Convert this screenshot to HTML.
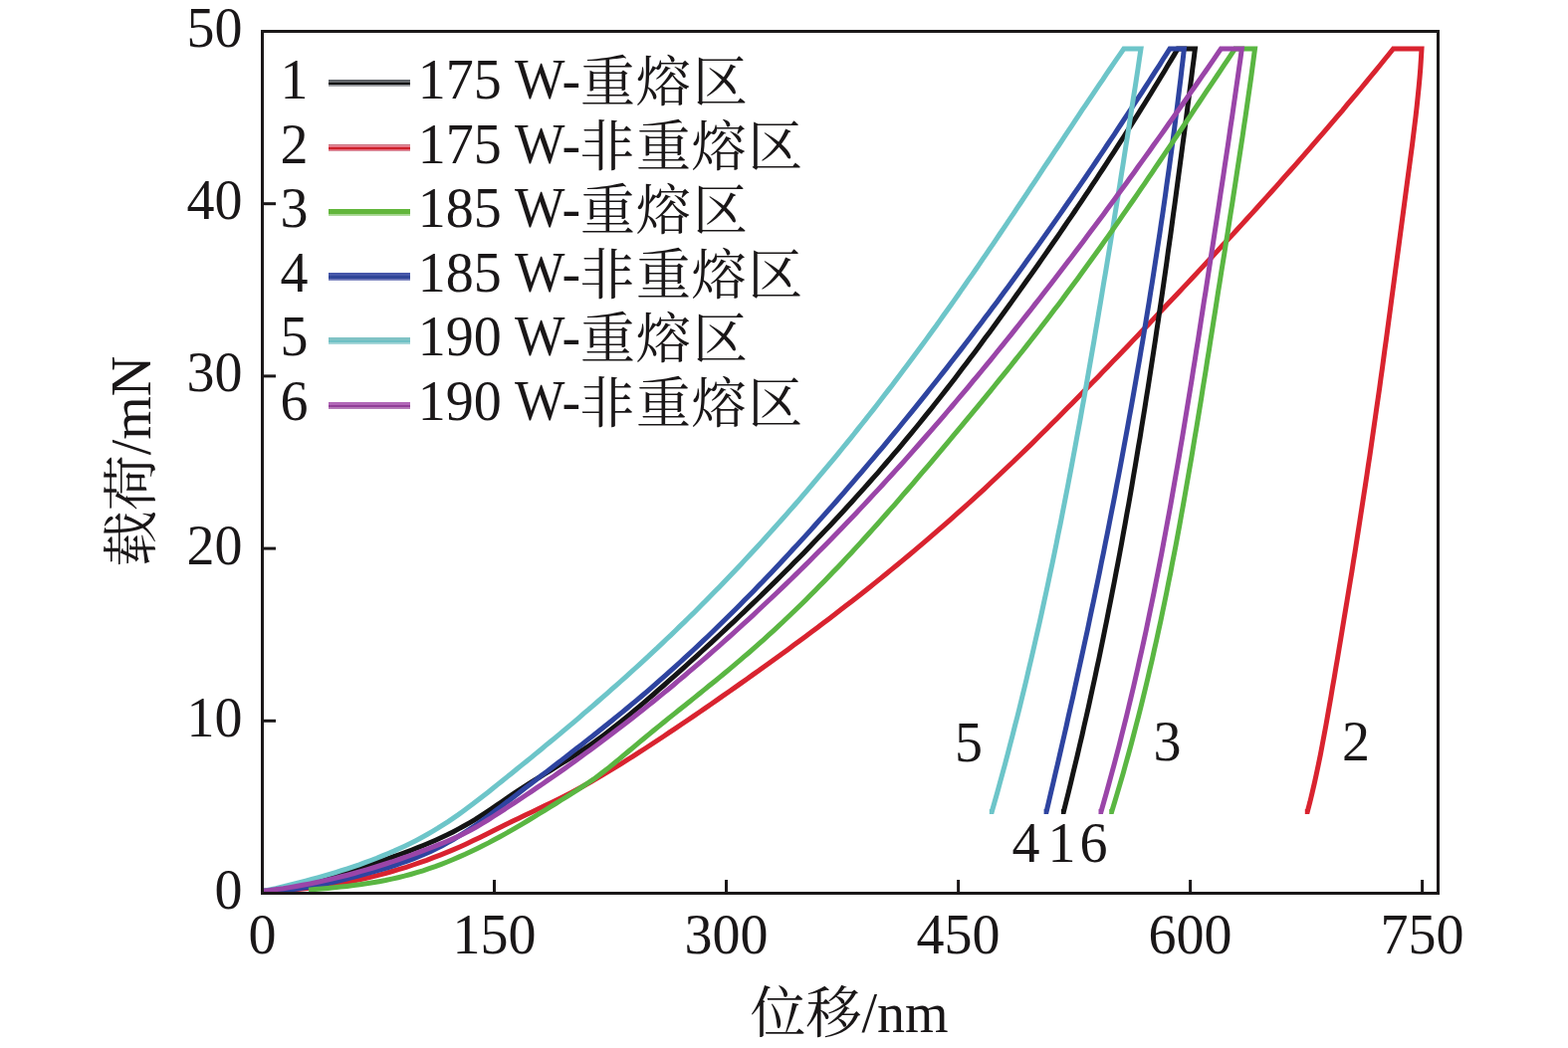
<!DOCTYPE html>
<html><head><meta charset="utf-8"><title>载荷-位移曲线</title><style>html,body{margin:0;padding:0;background:#fff;overflow:hidden}svg{display:block}</style></head>
<body><svg width="1575" height="1053" viewBox="0 0 1575 1053">
<rect width="1575" height="1053" fill="#fff"/>
<path d="M265.0,895.3 L272.3,895.1 L279.5,894.8 L286.8,894.3 L294.0,893.8 L301.3,893.2 L308.5,892.4 L315.7,891.6 L322.9,890.6 L330.1,889.6 L337.3,888.4 L344.5,887.1 L351.6,885.8 L358.7,884.3 L365.8,882.7 L372.9,881.1 L380.0,879.3 L387.0,877.5 L394.0,875.5 L401.0,873.4 L408.0,871.3 L414.9,869.0 L421.8,866.7 L428.6,864.3 L435.4,861.7 L442.2,859.1 L448.9,856.4 L455.6,853.6 L462.3,850.7 L468.9,847.7 L475.4,844.6 L482.0,841.4 L488.5,838.2 L494.9,835.0 L501.4,831.8 L507.9,828.6 L514.5,825.3 L521.0,822.2 L527.5,819.0 L534.1,815.9 L540.7,812.7 L547.3,809.6 L553.8,806.4 L560.4,803.2 L566.9,800.0 L573.3,796.6 L579.7,793.2 L586.1,789.7 L592.4,786.2 L598.7,782.6 L605.0,778.9 L611.2,775.2 L617.4,771.4 L623.6,767.6 L629.8,763.7 L635.9,759.8 L642.0,755.9 L648.1,752.0 L654.2,748.0 L660.3,744.0 L666.4,740.0 L672.4,735.9 L678.5,731.9 L684.5,727.8 L690.5,723.7 L696.6,719.6 L702.6,715.5 L708.6,711.4 L714.6,707.2 L720.5,703.1 L726.5,698.9 L732.5,694.7 L738.4,690.6 L744.4,686.4 L750.3,682.2 L756.3,677.9 L762.2,673.7 L768.1,669.5 L774.0,665.2 L779.9,660.9 L785.8,656.7 L791.7,652.4 L797.5,648.1 L803.4,643.7 L809.2,639.4 L815.1,635.1 L820.9,630.7 L826.7,626.3 L832.5,621.9 L838.3,617.5 L844.0,613.1 L849.8,608.6 L855.5,604.2 L861.3,599.7 L867.0,595.2 L872.7,590.7 L878.4,586.1 L884.0,581.6 L889.7,577.0 L895.3,572.4 L901.0,567.8 L906.6,563.1 L912.2,558.5 L917.7,553.8 L923.3,549.1 L928.9,544.4 L934.4,539.7 L939.9,534.9 L945.4,530.2 L950.9,525.4 L956.3,520.6 L961.8,515.7 L967.2,510.9 L972.6,506.0 L978.0,501.1 L983.4,496.2 L988.7,491.3 L994.0,486.3 L999.3,481.3 L1004.6,476.3 L1009.9,471.3 L1015.2,466.3 L1020.4,461.3 L1025.6,456.2 L1030.9,451.1 L1036.1,446.1 L1041.2,441.0 L1046.4,435.8 L1051.6,430.7 L1056.7,425.6 L1061.9,420.4 L1067.0,415.3 L1072.1,410.1 L1077.2,404.9 L1082.3,399.7 L1087.4,394.5 L1092.5,389.3 L1097.6,384.1 L1102.7,378.9 L1107.7,373.6 L1112.8,368.4 L1117.8,363.1 L1122.9,357.9 L1127.9,352.7 L1133.0,347.4 L1138.0,342.1 L1143.0,336.9 L1148.1,331.6 L1153.1,326.4 L1158.1,321.1 L1163.1,315.8 L1168.1,310.5 L1173.1,305.2 L1178.1,300.0 L1183.1,294.7 L1188.1,289.4 L1193.1,284.1 L1198.1,278.8 L1203.1,273.4 L1208.0,268.1 L1213.0,262.8 L1217.9,257.5 L1222.9,252.1 L1227.8,246.8 L1232.8,241.4 L1237.7,236.1 L1242.6,230.7 L1247.5,225.4 L1252.4,220.0 L1257.3,214.6 L1262.2,209.2 L1267.1,203.8 L1272.0,198.4 L1276.8,193.0 L1281.7,187.6 L1286.5,182.1 L1291.3,176.7 L1296.2,171.3 L1301.0,165.8 L1305.8,160.3 L1310.6,154.9 L1315.4,149.4 L1320.1,143.9 L1324.9,138.4 L1329.7,132.9 L1334.4,127.4 L1339.1,121.9 L1343.8,116.3 L1348.6,110.8 L1353.2,105.2 L1357.9,99.6 L1362.6,94.1 L1367.3,88.5 L1371.9,82.9 L1376.5,77.2 L1381.2,71.6 L1385.8,66.0 L1390.4,60.3 L1394.9,54.7 L1399.5,49.0 L1428.0,49.0 L1427.4,58.8 L1426.8,68.5 L1426.0,78.3 L1425.1,88.1 L1424.1,97.8 L1423.1,107.6 L1422.0,117.3 L1420.8,127.0 L1419.6,136.8 L1418.4,146.5 L1417.1,156.2 L1415.8,166.0 L1414.5,175.7 L1413.2,185.4 L1411.9,195.2 L1410.6,204.9 L1409.3,214.6 L1408.0,224.4 L1406.7,234.1 L1405.4,243.8 L1404.1,253.6 L1402.8,263.3 L1401.5,273.0 L1400.2,282.8 L1398.9,292.5 L1397.6,302.2 L1396.3,312.0 L1395.0,321.7 L1393.7,331.4 L1392.4,341.2 L1391.0,350.9 L1389.7,360.6 L1388.4,370.3 L1387.0,380.1 L1385.7,389.8 L1384.3,399.5 L1382.9,409.2 L1381.5,419.0 L1380.1,428.7 L1378.7,438.4 L1377.3,448.1 L1375.9,457.8 L1374.4,467.5 L1373.0,477.2 L1371.5,487.0 L1370.0,496.7 L1368.5,506.4 L1367.0,516.1 L1365.5,525.8 L1364.0,535.5 L1362.5,545.2 L1361.0,554.9 L1359.4,564.6 L1357.9,574.3 L1356.3,583.9 L1354.7,593.6 L1353.1,603.3 L1351.5,613.0 L1349.9,622.7 L1348.3,632.4 L1346.7,642.1 L1345.1,651.7 L1343.5,661.4 L1341.8,671.1 L1340.2,680.8 L1338.5,690.4 L1336.9,700.1 L1335.2,709.8 L1333.5,719.5 L1331.8,729.1 L1330.0,738.8 L1328.2,748.4 L1326.4,758.0 L1324.4,767.7 L1322.4,777.3 L1320.3,786.9 L1318.1,796.4 L1315.8,806.0 L1313.3,815.5 L1310.8,815.5" fill="none" stroke="#d9232f" stroke-width="5.0" stroke-linejoin="miter" stroke-miterlimit="4" stroke-linecap="butt"/>
<path d="M265.0,895.3 L271.5,894.9 L277.9,894.3 L284.3,893.4 L290.6,892.4 L296.9,891.1 L303.2,889.7 L309.4,888.2 L315.6,886.5 L321.8,884.8 L328.0,882.9 L334.2,881.0 L340.3,879.1 L346.4,877.1 L352.6,875.1 L358.7,873.1 L364.9,871.1 L371.0,869.1 L377.2,867.0 L383.3,865.0 L389.4,862.9 L395.5,860.7 L401.6,858.5 L407.6,856.3 L413.7,854.0 L419.7,851.7 L425.7,849.3 L431.6,846.8 L437.5,844.2 L443.4,841.5 L449.2,838.8 L454.9,835.9 L460.6,832.9 L466.3,829.8 L471.9,826.6 L477.4,823.3 L482.8,819.8 L488.2,816.3 L493.5,812.8 L498.9,809.1 L504.2,805.5 L509.5,801.8 L514.9,798.2 L520.2,794.6 L525.6,791.1 L531.0,787.6 L536.5,784.2 L542.0,780.8 L547.5,777.4 L553.0,774.0 L558.5,770.6 L563.9,767.2 L569.4,763.8 L574.9,760.4 L580.3,756.9 L585.7,753.3 L591.0,749.7 L596.3,746.0 L601.5,742.2 L606.7,738.4 L611.8,734.5 L616.9,730.5 L622.0,726.5 L627.0,722.5 L632.0,718.4 L637.0,714.2 L641.9,710.1 L646.9,705.9 L651.8,701.7 L656.7,697.5 L661.5,693.2 L666.4,689.0 L671.2,684.7 L676.1,680.4 L680.9,676.1 L685.7,671.8 L690.5,667.5 L695.3,663.2 L700.1,658.9 L704.8,654.5 L709.6,650.2 L714.3,645.8 L719.1,641.4 L723.8,637.0 L728.5,632.6 L733.2,628.2 L737.9,623.8 L742.6,619.3 L747.3,614.9 L751.9,610.4 L756.6,605.9 L761.2,601.5 L765.9,596.9 L770.5,592.4 L775.1,587.9 L779.7,583.4 L784.3,578.8 L788.8,574.3 L793.4,569.7 L797.9,565.1 L802.5,560.5 L807.0,555.9 L811.5,551.2 L816.0,546.6 L820.4,541.9 L824.9,537.3 L829.3,532.6 L833.8,527.9 L838.2,523.2 L842.6,518.5 L847.0,513.7 L851.3,509.0 L855.7,504.2 L860.0,499.4 L864.3,494.6 L868.6,489.8 L872.9,485.0 L877.2,480.1 L881.5,475.3 L885.7,470.4 L889.9,465.5 L894.1,460.6 L898.3,455.7 L902.5,450.8 L906.6,445.9 L910.7,440.9 L914.9,435.9 L918.9,431.0 L923.0,426.0 L927.1,420.9 L931.1,415.9 L935.2,410.9 L939.2,405.8 L943.2,400.8 L947.1,395.7 L951.1,390.6 L955.1,385.5 L959.0,380.4 L962.9,375.3 L966.8,370.1 L970.7,365.0 L974.6,359.8 L978.5,354.7 L982.4,349.5 L986.2,344.3 L990.0,339.1 L993.9,333.9 L997.7,328.7 L1001.5,323.5 L1005.3,318.3 L1009.1,313.1 L1012.9,307.8 L1016.6,302.6 L1020.4,297.3 L1024.1,292.1 L1027.9,286.8 L1031.6,281.5 L1035.4,276.3 L1039.1,271.0 L1042.8,265.7 L1046.5,260.4 L1050.2,255.1 L1053.9,249.8 L1057.5,244.5 L1061.2,239.2 L1064.9,233.9 L1068.5,228.5 L1072.1,223.2 L1075.8,217.9 L1079.4,212.5 L1083.0,207.2 L1086.6,201.8 L1090.2,196.4 L1093.8,191.1 L1097.3,185.7 L1100.9,180.3 L1104.4,174.9 L1108.0,169.5 L1111.5,164.1 L1115.0,158.7 L1118.5,153.3 L1122.0,147.8 L1125.5,142.4 L1129.0,137.0 L1132.4,131.5 L1135.9,126.1 L1139.3,120.6 L1142.8,115.1 L1146.2,109.7 L1149.6,104.2 L1153.0,98.7 L1156.4,93.2 L1159.7,87.7 L1163.1,82.2 L1166.4,76.7 L1169.8,71.2 L1173.1,65.6 L1176.4,60.1 L1179.7,54.6 L1183.0,49.0 L1200.4,49.0 L1199.2,58.8 L1197.9,68.5 L1196.7,78.3 L1195.4,88.0 L1194.2,97.8 L1192.9,107.5 L1191.7,117.3 L1190.4,127.0 L1189.1,136.8 L1187.8,146.5 L1186.5,156.3 L1185.2,166.1 L1183.9,175.8 L1182.6,185.6 L1181.3,195.3 L1180.0,205.1 L1178.6,214.9 L1177.3,224.6 L1176.0,234.4 L1174.6,244.1 L1173.2,253.9 L1171.9,263.6 L1170.5,273.4 L1169.1,283.2 L1167.7,292.9 L1166.3,302.7 L1164.8,312.4 L1163.4,322.2 L1161.9,331.9 L1160.5,341.7 L1159.0,351.4 L1157.5,361.2 L1156.0,370.9 L1154.5,380.6 L1153.0,390.4 L1151.4,400.1 L1149.9,409.9 L1148.3,419.6 L1146.7,429.3 L1145.2,439.1 L1143.5,448.8 L1141.9,458.5 L1140.3,468.2 L1138.6,477.9 L1137.0,487.7 L1135.3,497.4 L1133.6,507.1 L1131.8,516.8 L1130.1,526.5 L1128.3,536.2 L1126.6,545.9 L1124.8,555.6 L1123.0,565.3 L1121.1,574.9 L1119.3,584.6 L1117.4,594.3 L1115.5,604.0 L1113.6,613.6 L1111.7,623.3 L1109.7,633.0 L1107.8,642.6 L1105.8,652.3 L1103.8,661.9 L1101.7,671.6 L1099.7,681.2 L1097.6,690.8 L1095.5,700.4 L1093.4,710.1 L1091.2,719.7 L1089.0,729.3 L1086.9,738.9 L1084.6,748.5 L1082.4,758.1 L1080.1,767.7 L1077.8,777.2 L1075.5,786.8 L1073.2,796.4 L1070.8,805.9 L1068.4,815.5 L1065.9,815.5" fill="none" stroke="#141414" stroke-width="5.0" stroke-linejoin="miter" stroke-miterlimit="4" stroke-linecap="butt"/>
<path d="M265.0,895.3 L271.5,895.3 L277.9,895.1 L284.3,894.6 L290.7,894.1 L297.1,893.3 L303.4,892.4 L309.7,891.4 L316.0,890.2 L322.3,889.0 L328.6,887.6 L334.8,886.2 L341.1,884.7 L347.4,883.2 L353.6,881.6 L359.9,880.0 L366.1,878.4 L372.3,876.7 L378.5,874.9 L384.7,873.1 L390.9,871.3 L397.0,869.3 L403.1,867.2 L409.1,865.1 L415.1,862.8 L421.0,860.5 L426.9,858.0 L432.7,855.4 L438.5,852.6 L444.1,849.7 L449.7,846.6 L455.3,843.5 L460.7,840.2 L466.1,836.8 L471.5,833.3 L476.8,829.7 L482.1,826.0 L487.3,822.3 L492.5,818.5 L497.7,814.6 L502.9,810.7 L508.0,806.8 L513.1,802.9 L518.3,799.0 L523.4,795.0 L528.5,791.1 L533.6,787.2 L538.7,783.2 L543.8,779.3 L549.0,775.4 L554.1,771.5 L559.2,767.6 L564.3,763.6 L569.4,759.7 L574.4,755.8 L579.5,751.8 L584.6,747.9 L589.6,743.9 L594.7,740.0 L599.7,736.0 L604.7,732.0 L609.7,728.0 L614.7,724.0 L619.7,719.9 L624.7,715.9 L629.7,711.8 L634.6,707.7 L639.5,703.6 L644.4,699.5 L649.3,695.3 L654.2,691.1 L659.0,686.9 L663.8,682.7 L668.7,678.4 L673.4,674.2 L678.2,669.9 L683.0,665.5 L687.7,661.2 L692.4,656.9 L697.1,652.5 L701.8,648.1 L706.5,643.7 L711.2,639.2 L715.8,634.8 L720.4,630.3 L725.0,625.8 L729.6,621.3 L734.2,616.8 L738.8,612.3 L743.3,607.7 L747.8,603.1 L752.4,598.5 L756.9,593.9 L761.3,589.3 L765.8,584.7 L770.3,580.0 L774.7,575.4 L779.1,570.7 L783.6,566.0 L788.0,561.3 L792.3,556.6 L796.7,551.8 L801.1,547.1 L805.4,542.4 L809.8,537.6 L814.1,532.8 L818.4,528.0 L822.7,523.2 L827.0,518.4 L831.2,513.6 L835.5,508.8 L839.8,504.0 L844.0,499.1 L848.2,494.3 L852.4,489.4 L856.6,484.6 L860.8,479.7 L865.0,474.8 L869.2,469.9 L873.3,465.0 L877.5,460.1 L881.6,455.2 L885.8,450.3 L889.9,445.3 L894.0,440.4 L898.1,435.4 L902.2,430.5 L906.2,425.5 L910.3,420.5 L914.3,415.6 L918.4,410.6 L922.4,405.6 L926.4,400.6 L930.4,395.6 L934.4,390.5 L938.4,385.5 L942.4,380.5 L946.4,375.4 L950.4,370.4 L954.3,365.3 L958.2,360.2 L962.2,355.1 L966.1,350.1 L970.0,345.0 L973.9,339.9 L977.8,334.7 L981.7,329.6 L985.6,324.5 L989.4,319.3 L993.3,314.2 L997.1,309.1 L1001.0,303.9 L1004.8,298.7 L1008.6,293.5 L1012.4,288.4 L1016.2,283.2 L1020.0,278.0 L1023.8,272.8 L1027.6,267.6 L1031.3,262.3 L1035.1,257.1 L1038.8,251.9 L1042.6,246.6 L1046.3,241.4 L1050.0,236.1 L1053.7,230.9 L1057.4,225.6 L1061.1,220.4 L1064.8,215.1 L1068.5,209.8 L1072.1,204.5 L1075.8,199.2 L1079.4,193.9 L1083.1,188.6 L1086.7,183.3 L1090.4,178.0 L1094.0,172.7 L1097.6,167.3 L1101.2,162.0 L1104.8,156.7 L1108.4,151.3 L1111.9,146.0 L1115.5,140.6 L1119.1,135.3 L1122.6,129.9 L1126.2,124.5 L1129.7,119.2 L1133.2,113.8 L1136.8,108.4 L1140.3,103.0 L1143.8,97.6 L1147.3,92.3 L1150.8,86.9 L1154.3,81.5 L1157.7,76.1 L1161.2,70.7 L1164.7,65.3 L1168.1,59.8 L1171.6,54.4 L1175.0,49.0 L1189.4,49.0 L1188.3,58.8 L1187.1,68.6 L1186.0,78.4 L1184.8,88.1 L1183.6,97.9 L1182.4,107.7 L1181.1,117.5 L1179.9,127.2 L1178.6,137.0 L1177.3,146.8 L1176.0,156.6 L1174.7,166.3 L1173.3,176.1 L1171.9,185.9 L1170.6,195.6 L1169.2,205.4 L1167.8,215.1 L1166.3,224.9 L1164.9,234.7 L1163.4,244.4 L1161.9,254.2 L1160.4,263.9 L1158.9,273.7 L1157.4,283.4 L1155.8,293.1 L1154.3,302.9 L1152.7,312.6 L1151.1,322.4 L1149.5,332.1 L1147.9,341.8 L1146.2,351.6 L1144.6,361.3 L1142.9,371.0 L1141.2,380.7 L1139.5,390.5 L1137.8,400.2 L1136.1,409.9 L1134.3,419.6 L1132.6,429.3 L1130.8,439.0 L1129.0,448.8 L1127.2,458.5 L1125.4,468.2 L1123.6,477.9 L1121.7,487.6 L1119.9,497.3 L1118.0,506.9 L1116.1,516.6 L1114.2,526.3 L1112.3,536.0 L1110.3,545.7 L1108.4,555.4 L1106.4,565.0 L1104.5,574.7 L1102.5,584.4 L1100.5,594.0 L1098.5,603.7 L1096.4,613.4 L1094.4,623.0 L1092.4,632.7 L1090.3,642.3 L1088.2,652.0 L1086.1,661.6 L1084.0,671.3 L1081.9,680.9 L1079.8,690.5 L1077.7,700.2 L1075.5,709.8 L1073.3,719.4 L1071.2,729.1 L1069.0,738.7 L1066.8,748.3 L1064.6,757.9 L1062.4,767.5 L1060.1,777.1 L1057.9,786.7 L1055.6,796.3 L1053.4,805.9 L1051.1,815.5 L1048.6,815.5" fill="none" stroke="#2e44a0" stroke-width="5.0" stroke-linejoin="miter" stroke-miterlimit="4" stroke-linecap="butt"/>
<path d="M265.0,895.3 L271.0,893.9 L277.0,892.6 L283.0,891.1 L289.0,889.7 L295.0,888.2 L301.0,886.7 L307.0,885.1 L313.1,883.5 L319.1,881.8 L325.1,880.1 L331.1,878.4 L337.1,876.6 L343.0,874.7 L349.0,872.8 L354.9,870.8 L360.9,868.8 L366.7,866.7 L372.6,864.5 L378.4,862.3 L384.2,859.9 L390.0,857.5 L395.7,855.1 L401.4,852.5 L407.0,849.9 L412.6,847.2 L418.1,844.4 L423.6,841.5 L429.0,838.5 L434.4,835.4 L439.7,832.2 L444.9,828.9 L450.1,825.6 L455.2,822.1 L460.3,818.6 L465.3,815.0 L470.3,811.3 L475.3,807.6 L480.2,803.8 L485.1,800.0 L490.0,796.2 L494.9,792.3 L499.7,788.4 L504.6,784.5 L509.4,780.6 L514.3,776.7 L519.1,772.8 L523.9,768.9 L528.8,765.0 L533.6,761.1 L538.4,757.1 L543.2,753.2 L548.0,749.2 L552.8,745.3 L557.6,741.3 L562.4,737.3 L567.1,733.3 L571.9,729.3 L576.7,725.3 L581.4,721.3 L586.1,717.2 L590.9,713.2 L595.6,709.1 L600.3,705.0 L605.0,700.9 L609.7,696.8 L614.3,692.7 L619.0,688.6 L623.6,684.5 L628.3,680.3 L632.9,676.2 L637.5,672.0 L642.1,667.8 L646.7,663.6 L651.3,659.4 L655.8,655.1 L660.4,650.9 L664.9,646.6 L669.4,642.3 L673.9,638.1 L678.4,633.7 L682.8,629.4 L687.3,625.1 L691.7,620.7 L696.2,616.4 L700.6,612.0 L705.0,607.6 L709.3,603.2 L713.7,598.8 L718.1,594.3 L722.4,589.9 L726.7,585.4 L731.0,580.9 L735.3,576.4 L739.6,571.9 L743.9,567.4 L748.1,562.9 L752.4,558.3 L756.6,553.8 L760.8,549.2 L765.0,544.6 L769.2,540.0 L773.3,535.4 L777.5,530.8 L781.6,526.2 L785.8,521.5 L789.9,516.9 L794.0,512.2 L798.1,507.5 L802.2,502.8 L806.2,498.1 L810.3,493.4 L814.3,488.7 L818.3,483.9 L822.3,479.2 L826.3,474.4 L830.3,469.7 L834.3,464.9 L838.3,460.1 L842.2,455.3 L846.1,450.5 L850.1,445.6 L854.0,440.8 L857.9,436.0 L861.7,431.1 L865.6,426.2 L869.5,421.4 L873.3,416.5 L877.2,411.6 L881.0,406.7 L884.8,401.8 L888.6,396.8 L892.4,391.9 L896.2,387.0 L899.9,382.0 L903.7,377.0 L907.4,372.1 L911.2,367.1 L914.9,362.1 L918.6,357.1 L922.3,352.1 L926.0,347.1 L929.6,342.1 L933.3,337.0 L936.9,332.0 L940.6,327.0 L944.2,321.9 L947.8,316.8 L951.4,311.8 L955.0,306.7 L958.6,301.6 L962.2,296.5 L965.7,291.4 L969.3,286.3 L972.8,281.2 L976.4,276.1 L979.9,271.0 L983.4,265.9 L986.9,260.7 L990.4,255.6 L993.9,250.4 L997.4,245.3 L1000.9,240.1 L1004.3,235.0 L1007.8,229.8 L1011.3,224.7 L1014.7,219.5 L1018.2,214.3 L1021.6,209.2 L1025.1,204.0 L1028.5,198.8 L1032.0,193.6 L1035.4,188.4 L1038.8,183.3 L1042.3,178.1 L1045.7,172.9 L1049.1,167.7 L1052.6,162.5 L1056.0,157.3 L1059.4,152.2 L1062.9,147.0 L1066.3,141.8 L1069.7,136.6 L1073.2,131.4 L1076.6,126.3 L1080.0,121.1 L1083.5,115.9 L1086.9,110.7 L1090.4,105.6 L1093.9,100.4 L1097.3,95.3 L1100.8,90.1 L1104.3,84.9 L1107.8,79.8 L1111.2,74.6 L1114.7,69.5 L1118.2,64.4 L1121.8,59.2 L1125.3,54.1 L1128.8,49.0 L1146.0,49.0 L1144.5,58.8 L1143.1,68.5 L1141.6,78.3 L1140.1,88.1 L1138.5,97.8 L1137.0,107.6 L1135.5,117.4 L1134.0,127.1 L1132.5,136.9 L1130.9,146.7 L1129.4,156.4 L1127.9,166.2 L1126.3,176.0 L1124.8,185.8 L1123.2,195.5 L1121.6,205.3 L1120.0,215.1 L1118.5,224.8 L1116.9,234.6 L1115.3,244.4 L1113.7,254.1 L1112.1,263.9 L1110.5,273.6 L1108.8,283.4 L1107.2,293.2 L1105.6,302.9 L1103.9,312.7 L1102.3,322.5 L1100.6,332.2 L1099.0,342.0 L1097.3,351.7 L1095.6,361.5 L1093.9,371.2 L1092.2,381.0 L1090.5,390.7 L1088.8,400.5 L1087.0,410.2 L1085.3,420.0 L1083.5,429.7 L1081.7,439.4 L1079.9,449.2 L1078.1,458.9 L1076.3,468.6 L1074.4,478.4 L1072.6,488.1 L1070.7,497.8 L1068.8,507.5 L1066.9,517.2 L1065.0,526.9 L1063.0,536.6 L1061.1,546.3 L1059.1,556.0 L1057.1,565.7 L1055.0,575.4 L1053.0,585.1 L1050.9,594.7 L1048.8,604.4 L1046.7,614.1 L1044.6,623.7 L1042.4,633.4 L1040.2,643.0 L1038.0,652.7 L1035.8,662.3 L1033.5,671.9 L1031.3,681.5 L1029.0,691.1 L1026.6,700.8 L1024.3,710.4 L1021.9,720.0 L1019.4,729.5 L1017.0,739.1 L1014.5,748.7 L1012.0,758.3 L1009.5,767.8 L1006.9,777.4 L1004.3,786.9 L1001.7,796.5 L999.0,806.0 L996.3,815.5 L993.8,815.5" fill="none" stroke="#6dc5c9" stroke-width="5.0" stroke-linejoin="miter" stroke-miterlimit="4" stroke-linecap="butt"/>
<path d="M310.0,894.2 L316.4,893.6 L322.9,893.0 L329.4,892.4 L335.8,891.7 L342.3,891.1 L348.7,890.4 L355.2,889.6 L361.6,888.7 L368.0,887.8 L374.5,886.8 L380.9,885.7 L387.2,884.5 L393.6,883.1 L399.9,881.7 L406.2,880.2 L412.5,878.5 L418.7,876.7 L424.9,874.8 L431.1,872.7 L437.2,870.6 L443.3,868.3 L449.3,866.0 L455.3,863.5 L461.3,860.9 L467.3,858.3 L473.2,855.5 L479.0,852.7 L484.9,849.8 L490.7,846.9 L496.4,843.8 L502.1,840.7 L507.8,837.6 L513.5,834.4 L519.1,831.1 L524.7,827.8 L530.3,824.5 L535.9,821.1 L541.4,817.7 L547.0,814.3 L552.5,810.9 L558.0,807.5 L563.6,804.0 L569.1,800.6 L574.6,797.2 L580.1,793.7 L585.5,790.1 L590.9,786.5 L596.3,782.9 L601.5,779.1 L606.7,775.1 L611.8,771.1 L616.8,767.0 L621.8,762.9 L626.8,758.7 L631.8,754.5 L636.8,750.3 L641.8,746.1 L646.8,742.0 L651.8,737.8 L656.8,733.7 L661.9,729.6 L667.0,725.5 L672.0,721.4 L677.1,717.4 L682.2,713.3 L687.3,709.2 L692.3,705.2 L697.4,701.1 L702.5,697.0 L707.6,692.9 L712.6,688.8 L717.7,684.7 L722.7,680.6 L727.7,676.5 L732.7,672.3 L737.7,668.1 L742.7,663.9 L747.6,659.7 L752.6,655.5 L757.5,651.2 L762.3,646.9 L767.2,642.6 L772.0,638.2 L776.8,633.8 L781.6,629.4 L786.3,625.0 L791.0,620.5 L795.7,616.0 L800.4,611.5 L805.1,607.0 L809.7,602.4 L814.3,597.8 L818.9,593.2 L823.4,588.6 L828.0,584.0 L832.5,579.3 L837.0,574.6 L841.5,569.9 L846.0,565.2 L850.4,560.4 L854.9,555.7 L859.3,550.9 L863.7,546.1 L868.1,541.3 L872.4,536.5 L876.8,531.6 L881.2,526.8 L885.5,521.9 L889.8,517.0 L894.1,512.2 L898.4,507.3 L902.7,502.3 L906.9,497.4 L911.2,492.5 L915.5,487.6 L919.7,482.6 L923.9,477.7 L928.2,472.7 L932.4,467.8 L936.6,462.8 L940.8,457.8 L945.0,452.8 L949.2,447.8 L953.4,442.9 L957.5,437.9 L961.7,432.9 L965.9,427.9 L970.0,422.9 L974.2,417.9 L978.3,412.9 L982.5,407.8 L986.6,402.8 L990.7,397.8 L994.8,392.8 L998.9,387.7 L1003.0,382.7 L1007.1,377.6 L1011.2,372.6 L1015.3,367.5 L1019.3,362.4 L1023.4,357.3 L1027.4,352.2 L1031.4,347.1 L1035.4,342.0 L1039.4,336.9 L1043.4,331.8 L1047.4,326.6 L1051.3,321.5 L1055.3,316.3 L1059.2,311.1 L1063.2,305.9 L1067.1,300.8 L1070.9,295.5 L1074.8,290.3 L1078.7,285.1 L1082.5,279.9 L1086.4,274.6 L1090.2,269.3 L1094.0,264.1 L1097.8,258.8 L1101.6,253.5 L1105.4,248.2 L1109.1,242.9 L1112.9,237.6 L1116.7,232.3 L1120.4,226.9 L1124.1,221.6 L1127.8,216.2 L1131.5,210.9 L1135.2,205.5 L1138.9,200.2 L1142.6,194.8 L1146.3,189.4 L1150.0,184.1 L1153.6,178.7 L1157.3,173.3 L1160.9,167.9 L1164.6,162.5 L1168.2,157.1 L1171.9,151.7 L1175.5,146.3 L1179.1,140.9 L1182.7,135.5 L1186.4,130.1 L1190.0,124.7 L1193.6,119.3 L1197.2,113.8 L1200.8,108.4 L1204.4,103.0 L1208.0,97.6 L1211.6,92.2 L1215.2,86.8 L1218.9,81.4 L1222.5,76.0 L1226.1,70.6 L1229.7,65.2 L1233.3,59.8 L1236.9,54.4 L1240.5,49.0 L1260.5,49.0 L1259.2,58.8 L1257.9,68.6 L1256.6,78.3 L1255.2,88.1 L1253.8,97.9 L1252.4,107.7 L1251.0,117.4 L1249.5,127.2 L1248.1,137.0 L1246.6,146.7 L1245.1,156.5 L1243.6,166.2 L1242.1,176.0 L1240.6,185.8 L1239.1,195.5 L1237.6,205.3 L1236.0,215.1 L1234.5,224.8 L1233.0,234.6 L1231.4,244.3 L1229.9,254.1 L1228.3,263.9 L1226.7,273.6 L1225.2,283.4 L1223.6,293.2 L1222.1,302.9 L1220.6,312.7 L1219.0,322.5 L1217.5,332.2 L1215.9,342.0 L1214.4,351.8 L1212.8,361.5 L1211.3,371.3 L1209.7,381.1 L1208.1,390.8 L1206.6,400.6 L1205.0,410.4 L1203.4,420.1 L1201.8,429.9 L1200.1,439.6 L1198.5,449.4 L1196.9,459.1 L1195.2,468.9 L1193.5,478.6 L1191.8,488.4 L1190.1,498.1 L1188.4,507.8 L1186.6,517.6 L1184.9,527.3 L1183.1,537.0 L1181.3,546.7 L1179.4,556.4 L1177.5,566.1 L1175.7,575.8 L1173.7,585.5 L1171.8,595.2 L1169.8,604.9 L1167.8,614.5 L1165.8,624.2 L1163.7,633.8 L1161.6,643.5 L1159.4,653.1 L1157.3,662.7 L1155.0,672.4 L1152.8,682.0 L1150.5,691.6 L1148.2,701.2 L1145.8,710.8 L1143.4,720.3 L1140.9,729.9 L1138.4,739.5 L1135.9,749.0 L1133.3,758.5 L1130.6,768.1 L1128.0,777.6 L1125.2,787.1 L1122.4,796.6 L1119.6,806.0 L1116.7,815.5 L1114.2,815.5" fill="none" stroke="#5ab642" stroke-width="5.0" stroke-linejoin="miter" stroke-miterlimit="4" stroke-linecap="butt"/>
<path d="M265.0,895.3 L271.5,894.5 L278.1,893.6 L284.6,892.7 L291.1,891.6 L297.6,890.5 L304.1,889.3 L310.6,888.1 L317.1,886.8 L323.5,885.4 L330.0,883.9 L336.4,882.4 L342.8,880.8 L349.2,879.2 L355.6,877.5 L362.0,875.7 L368.3,873.9 L374.7,872.0 L381.0,870.0 L387.3,868.0 L393.6,866.0 L399.9,863.8 L406.1,861.7 L412.3,859.5 L418.6,857.2 L424.7,854.9 L430.9,852.5 L437.0,850.1 L443.2,847.7 L449.2,845.2 L455.3,842.6 L461.2,839.9 L467.1,837.0 L472.9,834.0 L478.7,830.8 L484.3,827.4 L489.9,824.0 L495.4,820.5 L501.0,816.9 L506.5,813.3 L512.0,809.7 L517.5,806.1 L523.0,802.5 L528.5,798.8 L534.0,795.1 L539.4,791.4 L544.9,787.7 L550.3,783.9 L555.8,780.2 L561.2,776.4 L566.6,772.6 L572.0,768.7 L577.3,764.9 L582.7,761.0 L588.0,757.1 L593.4,753.2 L598.7,749.3 L604.0,745.3 L609.3,741.3 L614.6,737.3 L619.8,733.3 L625.1,729.3 L630.3,725.2 L635.5,721.2 L640.8,717.1 L645.9,713.0 L651.1,708.9 L656.3,704.7 L661.4,700.6 L666.5,696.4 L671.7,692.2 L676.8,688.0 L681.8,683.7 L686.9,679.5 L691.9,675.2 L697.0,670.9 L702.0,666.6 L707.0,662.3 L712.0,658.0 L716.9,653.7 L721.9,649.3 L726.8,644.9 L731.8,640.5 L736.7,636.1 L741.6,631.7 L746.5,627.2 L751.3,622.8 L756.2,618.3 L761.0,613.8 L765.8,609.3 L770.6,604.8 L775.4,600.2 L780.2,595.7 L785.0,591.1 L789.7,586.6 L794.5,582.0 L799.2,577.4 L803.9,572.7 L808.6,568.1 L813.3,563.4 L817.9,558.8 L822.6,554.1 L827.2,549.4 L831.9,544.7 L836.5,540.0 L841.1,535.3 L845.7,530.5 L850.2,525.8 L854.8,521.0 L859.4,516.2 L863.9,511.4 L868.4,506.6 L872.9,501.8 L877.4,496.9 L881.9,492.1 L886.4,487.2 L890.8,482.4 L895.3,477.5 L899.7,472.6 L904.2,467.7 L908.6,462.8 L913.0,457.9 L917.4,452.9 L921.7,448.0 L926.1,443.0 L930.5,438.0 L934.8,433.1 L939.1,428.1 L943.5,423.1 L947.8,418.1 L952.1,413.0 L956.4,408.0 L960.6,403.0 L964.9,397.9 L969.2,392.9 L973.4,387.8 L977.6,382.7 L981.9,377.6 L986.1,372.5 L990.3,367.4 L994.5,362.3 L998.6,357.2 L1002.8,352.0 L1007.0,346.9 L1011.1,341.7 L1015.3,336.6 L1019.4,331.4 L1023.5,326.2 L1027.6,321.0 L1031.7,315.9 L1035.8,310.7 L1039.9,305.4 L1044.0,300.2 L1048.0,295.0 L1052.1,289.8 L1056.2,284.5 L1060.2,279.3 L1064.2,274.1 L1068.2,268.8 L1072.2,263.5 L1076.3,258.3 L1080.2,253.0 L1084.2,247.7 L1088.2,242.4 L1092.2,237.1 L1096.1,231.8 L1100.1,226.5 L1104.0,221.2 L1108.0,215.9 L1111.9,210.6 L1115.8,205.2 L1119.7,199.9 L1123.6,194.6 L1127.5,189.2 L1131.4,183.9 L1135.3,178.5 L1139.2,173.2 L1143.0,167.8 L1146.9,162.4 L1150.7,157.1 L1154.6,151.7 L1158.4,146.3 L1162.3,140.9 L1166.1,135.6 L1169.9,130.2 L1173.7,124.8 L1177.5,119.4 L1181.3,114.0 L1185.1,108.6 L1188.9,103.2 L1192.7,97.8 L1196.4,92.4 L1200.2,87.0 L1204.0,81.5 L1207.7,76.1 L1211.5,70.7 L1215.2,65.3 L1219.0,59.9 L1222.7,54.4 L1226.4,49.0 L1247.3,49.0 L1246.0,58.8 L1244.6,68.5 L1243.2,78.3 L1241.8,88.0 L1240.4,97.8 L1239.0,107.5 L1237.6,117.3 L1236.1,127.0 L1234.7,136.8 L1233.3,146.5 L1231.8,156.3 L1230.3,166.1 L1228.9,175.8 L1227.4,185.6 L1225.9,195.3 L1224.5,205.1 L1223.0,214.9 L1221.5,224.6 L1220.0,234.4 L1218.5,244.1 L1217.0,253.9 L1215.5,263.7 L1214.0,273.4 L1212.5,283.2 L1211.0,293.0 L1209.4,302.7 L1207.9,312.5 L1206.4,322.2 L1204.9,332.0 L1203.4,341.8 L1201.8,351.5 L1200.3,361.3 L1198.7,371.1 L1197.2,380.8 L1195.6,390.6 L1194.0,400.3 L1192.4,410.1 L1190.8,419.8 L1189.2,429.6 L1187.6,439.3 L1185.9,449.1 L1184.3,458.8 L1182.6,468.6 L1180.9,478.3 L1179.2,488.0 L1177.5,497.7 L1175.8,507.5 L1174.0,517.2 L1172.2,526.9 L1170.4,536.6 L1168.6,546.3 L1166.8,556.0 L1164.9,565.7 L1163.0,575.4 L1161.1,585.1 L1159.2,594.8 L1157.2,604.5 L1155.2,614.1 L1153.2,623.8 L1151.2,633.5 L1149.1,643.1 L1147.0,652.8 L1144.8,662.4 L1142.7,672.0 L1140.5,681.6 L1138.3,691.3 L1136.0,700.9 L1133.7,710.5 L1131.4,720.1 L1129.0,729.6 L1126.6,739.2 L1124.2,748.8 L1121.7,758.3 L1119.2,767.9 L1116.6,777.4 L1114.0,787.0 L1111.4,796.5 L1108.7,806.0 L1106.0,815.5 L1103.5,815.5" fill="none" stroke="#9a45a8" stroke-width="5.0" stroke-linejoin="miter" stroke-miterlimit="4" stroke-linecap="butt"/>
<rect x="263.5" y="31.5" width="1181.0" height="866.0" fill="none" stroke="#1a1718" stroke-width="3"/>
<line x1="496.5" y1="897.5" x2="496.5" y2="884" stroke="#1a1718" stroke-width="3"/>
<line x1="729.5" y1="897.5" x2="729.5" y2="884" stroke="#1a1718" stroke-width="3"/>
<line x1="962.6" y1="897.5" x2="962.6" y2="884" stroke="#1a1718" stroke-width="3"/>
<line x1="1195.6" y1="897.5" x2="1195.6" y2="884" stroke="#1a1718" stroke-width="3"/>
<line x1="1428.6" y1="897.5" x2="1428.6" y2="884" stroke="#1a1718" stroke-width="3"/>
<line x1="263.5" y1="724.3" x2="277" y2="724.3" stroke="#1a1718" stroke-width="3"/>
<line x1="263.5" y1="551.1" x2="277" y2="551.1" stroke="#1a1718" stroke-width="3"/>
<line x1="263.5" y1="377.9" x2="277" y2="377.9" stroke="#1a1718" stroke-width="3"/>
<line x1="263.5" y1="204.7" x2="277" y2="204.7" stroke="#1a1718" stroke-width="3"/>
<g font-family="&quot;Liberation Serif&quot;, &quot;Noto Serif CJK SC&quot;, serif" font-size="56" fill="#1a1718"><text x="263.5" y="957.5" text-anchor="middle">0</text><text x="496.5" y="957.5" text-anchor="middle">150</text><text x="729.5" y="957.5" text-anchor="middle">300</text><text x="962.6" y="957.5" text-anchor="middle">450</text><text x="1195.6" y="957.5" text-anchor="middle">600</text><text x="1428.6" y="957.5" text-anchor="middle">750</text><text x="243.5" y="913.0" text-anchor="end">0</text><text x="243.5" y="739.8" text-anchor="end">10</text><text x="243.5" y="566.6" text-anchor="end">20</text><text x="243.5" y="393.4" text-anchor="end">30</text><text x="243.5" y="220.2" text-anchor="end">40</text><text x="243.5" y="47.0" text-anchor="end">50</text></g>
<text x="853" y="1036.5" text-anchor="middle" font-family="&quot;Liberation Serif&quot;, &quot;Noto Serif CJK SC&quot;, serif" font-size="56" fill="#1a1718">位移/nm</text>
<text transform="translate(150.5,463.5) rotate(-90)" text-anchor="middle" font-family="&quot;Liberation Serif&quot;, &quot;Noto Serif CJK SC&quot;, serif" font-size="56" fill="#1a1718">载荷/mN</text>
<text x="295.6" y="99.2" text-anchor="middle" font-family="&quot;Liberation Serif&quot;, &quot;Noto Serif CJK SC&quot;, serif" font-size="56" fill="#1a1718">1</text>
<rect x="330" y="80.0" width="82" height="2.8" fill="#5e6267"/>
<rect x="330" y="82.8" width="82" height="2.2" fill="#0a0a0c"/>
<rect x="330" y="85.0" width="82" height="1.8" fill="#8f9196"/>
<text x="461.7" y="99.2" text-anchor="middle" font-family="&quot;Liberation Serif&quot;, &quot;Noto Serif CJK SC&quot;, serif" font-size="56" fill="#1a1718">175</text>
<text transform="translate(542.3,99.2) scale(0.955,1)" text-anchor="middle" font-family="&quot;Liberation Serif&quot;, &quot;Noto Serif CJK SC&quot;, serif" font-size="56" fill="#1a1718">W</text>
<text x="573.8" y="99.2" text-anchor="middle" font-family="&quot;Liberation Serif&quot;, &quot;Noto Serif CJK SC&quot;, serif" font-size="56" fill="#1a1718">-</text>
<text x="582.90 638.75 696.00" y="101.0" font-family="&quot;Noto Serif CJK SC&quot;, &quot;Liberation Serif&quot;, serif" font-size="55" fill="#1a1718">重熔区</text>
<text x="295.6" y="163.7" text-anchor="middle" font-family="&quot;Liberation Serif&quot;, &quot;Noto Serif CJK SC&quot;, serif" font-size="56" fill="#1a1718">2</text>
<rect x="330" y="145.0" width="82" height="1.5" fill="#c9707f"/>
<rect x="330" y="146.5" width="82" height="1.5" fill="#e6687a"/>
<rect x="330" y="148.0" width="82" height="2.0" fill="#cc2029"/>
<rect x="330" y="150.0" width="82" height="1.0" fill="#e8687a"/>
<rect x="330" y="151.0" width="82" height="0.8" fill="#cf7484"/>
<text x="461.7" y="163.7" text-anchor="middle" font-family="&quot;Liberation Serif&quot;, &quot;Noto Serif CJK SC&quot;, serif" font-size="56" fill="#1a1718">175</text>
<text transform="translate(542.3,163.7) scale(0.955,1)" text-anchor="middle" font-family="&quot;Liberation Serif&quot;, &quot;Noto Serif CJK SC&quot;, serif" font-size="56" fill="#1a1718">W</text>
<text x="573.8" y="163.7" text-anchor="middle" font-family="&quot;Liberation Serif&quot;, &quot;Noto Serif CJK SC&quot;, serif" font-size="56" fill="#1a1718">-</text>
<text x="582.15 639.10 694.45 751.20" y="165.5" font-family="&quot;Noto Serif CJK SC&quot;, &quot;Liberation Serif&quot;, serif" font-size="55" fill="#1a1718">非重熔区</text>
<text x="295.6" y="228.2" text-anchor="middle" font-family="&quot;Liberation Serif&quot;, &quot;Noto Serif CJK SC&quot;, serif" font-size="56" fill="#1a1718">3</text>
<rect x="330" y="210.0" width="82" height="5.0" fill="#62b63b"/>
<rect x="330" y="215.0" width="82" height="1.9" fill="#a6d68f"/>
<text x="461.7" y="228.2" text-anchor="middle" font-family="&quot;Liberation Serif&quot;, &quot;Noto Serif CJK SC&quot;, serif" font-size="56" fill="#1a1718">185</text>
<text transform="translate(542.3,228.2) scale(0.955,1)" text-anchor="middle" font-family="&quot;Liberation Serif&quot;, &quot;Noto Serif CJK SC&quot;, serif" font-size="56" fill="#1a1718">W</text>
<text x="573.8" y="228.2" text-anchor="middle" font-family="&quot;Liberation Serif&quot;, &quot;Noto Serif CJK SC&quot;, serif" font-size="56" fill="#1a1718">-</text>
<text x="582.90 638.75 696.00" y="230.0" font-family="&quot;Noto Serif CJK SC&quot;, &quot;Liberation Serif&quot;, serif" font-size="55" fill="#1a1718">重熔区</text>
<text x="295.6" y="292.7" text-anchor="middle" font-family="&quot;Liberation Serif&quot;, &quot;Noto Serif CJK SC&quot;, serif" font-size="56" fill="#1a1718">4</text>
<rect x="330" y="274.0" width="82" height="3.0" fill="#4657aa"/>
<rect x="330" y="277.0" width="82" height="3.0" fill="#2f4598"/>
<rect x="330" y="280.0" width="82" height="1.8" fill="#6670b5"/>
<text x="461.7" y="292.7" text-anchor="middle" font-family="&quot;Liberation Serif&quot;, &quot;Noto Serif CJK SC&quot;, serif" font-size="56" fill="#1a1718">185</text>
<text transform="translate(542.3,292.7) scale(0.955,1)" text-anchor="middle" font-family="&quot;Liberation Serif&quot;, &quot;Noto Serif CJK SC&quot;, serif" font-size="56" fill="#1a1718">W</text>
<text x="573.8" y="292.7" text-anchor="middle" font-family="&quot;Liberation Serif&quot;, &quot;Noto Serif CJK SC&quot;, serif" font-size="56" fill="#1a1718">-</text>
<text x="582.15 639.10 694.45 751.20" y="294.5" font-family="&quot;Noto Serif CJK SC&quot;, &quot;Liberation Serif&quot;, serif" font-size="55" fill="#1a1718">非重熔区</text>
<text x="295.6" y="357.2" text-anchor="middle" font-family="&quot;Liberation Serif&quot;, &quot;Noto Serif CJK SC&quot;, serif" font-size="56" fill="#1a1718">5</text>
<rect x="330" y="339.0" width="82" height="3.0" fill="#80c3c5"/>
<rect x="330" y="342.0" width="82" height="2.0" fill="#6fc0c5"/>
<rect x="330" y="344.0" width="82" height="1.9" fill="#9dd3d5"/>
<text x="461.7" y="357.2" text-anchor="middle" font-family="&quot;Liberation Serif&quot;, &quot;Noto Serif CJK SC&quot;, serif" font-size="56" fill="#1a1718">190</text>
<text transform="translate(542.3,357.2) scale(0.955,1)" text-anchor="middle" font-family="&quot;Liberation Serif&quot;, &quot;Noto Serif CJK SC&quot;, serif" font-size="56" fill="#1a1718">W</text>
<text x="573.8" y="357.2" text-anchor="middle" font-family="&quot;Liberation Serif&quot;, &quot;Noto Serif CJK SC&quot;, serif" font-size="56" fill="#1a1718">-</text>
<text x="582.90 638.75 696.00" y="359.0" font-family="&quot;Noto Serif CJK SC&quot;, &quot;Liberation Serif&quot;, serif" font-size="55" fill="#1a1718">重熔区</text>
<text x="295.6" y="421.7" text-anchor="middle" font-family="&quot;Liberation Serif&quot;, &quot;Noto Serif CJK SC&quot;, serif" font-size="56" fill="#1a1718">6</text>
<rect x="330" y="404.0" width="82" height="3.0" fill="#b268b8"/>
<rect x="330" y="407.0" width="82" height="2.6" fill="#913d97"/>
<rect x="330" y="409.6" width="82" height="1.2" fill="#a35aa8"/>
<text x="461.7" y="421.7" text-anchor="middle" font-family="&quot;Liberation Serif&quot;, &quot;Noto Serif CJK SC&quot;, serif" font-size="56" fill="#1a1718">190</text>
<text transform="translate(542.3,421.7) scale(0.955,1)" text-anchor="middle" font-family="&quot;Liberation Serif&quot;, &quot;Noto Serif CJK SC&quot;, serif" font-size="56" fill="#1a1718">W</text>
<text x="573.8" y="421.7" text-anchor="middle" font-family="&quot;Liberation Serif&quot;, &quot;Noto Serif CJK SC&quot;, serif" font-size="56" fill="#1a1718">-</text>
<text x="582.15 639.10 694.45 751.20" y="423.5" font-family="&quot;Noto Serif CJK SC&quot;, &quot;Liberation Serif&quot;, serif" font-size="55" fill="#1a1718">非重熔区</text>
<text x="973" y="764.5" text-anchor="middle" font-family="&quot;Liberation Serif&quot;, &quot;Noto Serif CJK SC&quot;, serif" font-size="56" fill="#1a1718">5</text>
<text x="1172.5" y="764" text-anchor="middle" font-family="&quot;Liberation Serif&quot;, &quot;Noto Serif CJK SC&quot;, serif" font-size="56" fill="#1a1718">3</text>
<text x="1362" y="763.5" text-anchor="middle" font-family="&quot;Liberation Serif&quot;, &quot;Noto Serif CJK SC&quot;, serif" font-size="56" fill="#1a1718">2</text>
<text x="1030.5" y="866" text-anchor="middle" font-family="&quot;Liberation Serif&quot;, &quot;Noto Serif CJK SC&quot;, serif" font-size="56" fill="#1a1718">4</text>
<text x="1066.5" y="866" text-anchor="middle" font-family="&quot;Liberation Serif&quot;, &quot;Noto Serif CJK SC&quot;, serif" font-size="56" fill="#1a1718">1</text>
<text x="1098.5" y="866" text-anchor="middle" font-family="&quot;Liberation Serif&quot;, &quot;Noto Serif CJK SC&quot;, serif" font-size="56" fill="#1a1718">6</text>
</svg></body></html>
